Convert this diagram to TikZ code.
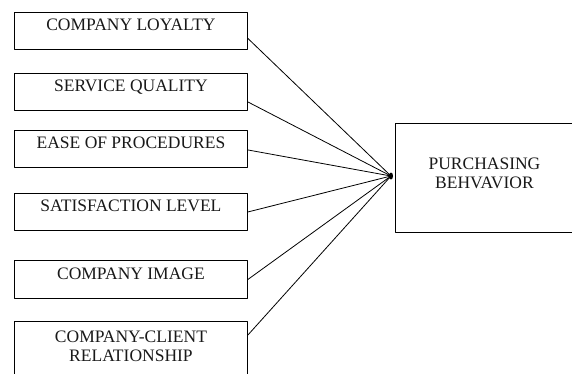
\documentclass[tikz,border=0pt]{standalone}
\usepackage{fontspec}
\setmainfont{Liberation Serif}
\usetikzlibrary{positioning}

\tikzset{
  box/.style={draw, line width=0.9pt, anchor=north west, inner sep=0pt, align=center,
    font=\fontsize{17.5}{19}\selectfont, text=black!90},
  factor/.style={box, minimum width=233pt, minimum height=37pt,
    text height=12pt, text depth=12pt},
  link/.style={line width=0.8pt}
}

\begin{document}
\begin{tikzpicture}[x=1pt, y=-1pt, line cap=round, line join=round]
  \useasboundingbox (0,0) rectangle (572,373);
  \clip (0,0) rectangle (572,373);

  \node[factor] (loyalty)      at (14,12)  {COMPANY LOYALTY};
  \node[factor] (quality)      at (14,73)  {SERVICE QUALITY};
  \node[factor] (procedures)   at (14,130) {EASE OF PROCEDURES};
  \node[factor] (satisfaction) at (14,193) {SATISFACTION LEVEL};
  \node[factor, minimum height=38pt] (image) at (14,260) {COMPANY IMAGE};
  \node[box, minimum width=233pt, inner ysep=9pt, text depth=30pt]
    (relation) at (14,321) {COMPANY-CLIENT\\RELATIONSHIP};

  \node[box, minimum width=178pt, minimum height=109pt, text depth=10pt]
    (behavior) at (395,123) {PURCHASING\\BEHVAVIOR};

  \coordinate (hub) at (391,176);

  \draw[link] ([yshift=-7.5pt]loyalty.east) -- (hub);
  \draw[link] ([yshift=-10pt]quality.east) -- (hub);
  \draw[link] ([yshift=-1pt]procedures.east) -- (hub);
  \draw[link] (satisfaction.east) -- (hub);
  \draw[link] (image.east) -- (hub);
  \draw[link] ([yshift=-14pt]relation.north east) -- (hub);

  \fill (hub) ellipse (2pt and 3.5pt);
\end{tikzpicture}
\end{document}
